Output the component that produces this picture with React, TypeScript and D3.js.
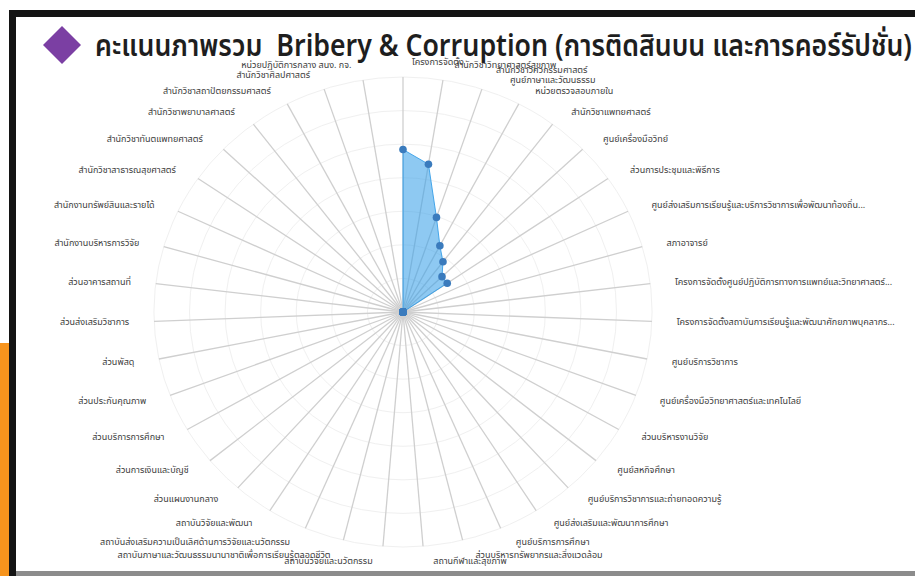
import React from "react";
import * as d3 from "d3";

// axis labels, clockwise from the top
const units: string[] = [
  "โครงการจัดตั้ง",
  "สำนักวิชาวิทยาศาสตร์สุขภาพ",
  "สำนักวิชาวิศวกรรมศาสตร์\n      ศูนย์ภาษาและวัฒนธรรม",
  "หน่วยตรวจสอบภายใน",
  "สำนักวิชาแพทยศาสตร์",
  "ศูนย์เครื่องมือวิทย์",
  "ส่วนการประชุมและพิธีการ",
  "ศูนย์ส่งเสริมการเรียนรู้และบริการวิชาการเพื่อพัฒนาท้องถิ่น...",
  "สภาอาจารย์",
  "โครงการจัดตั้งศูนย์ปฏิบัติการทางการแพทย์และวิทยาศาสตร์...",
  "โครงการจัดตั้งสถาบันการเรียนรู้และพัฒนาศักยภาพบุคลากร...",
  "ศูนย์บริการวิชาการ",
  "ศูนย์เครื่องมือวิทยาศาสตร์และเทคโนโลยี",
  "ส่วนบริหารงานวิจัย",
  "ศูนย์สหกิจศึกษา",
  "ศูนย์บริการวิชาการและถ่ายทอดความรู้",
  "ศูนย์ส่งเสริมและพัฒนาการศึกษา",
  "ศูนย์บริการการศึกษา",
  "ส่วนบริหารทรัพยากรและสิ่งแวดล้อม",
  "สถานกีฬาและสุขภาพ",
  "สถาบันวิจัยและนวัตกรรม",
  "สถาบันภาษาและวัฒนธรรมนานาชาติเพื่อการเรียนรู้ตลอดชีวิต",
  "สถาบันส่งเสริมความเป็นเลิศด้านการวิจัยและนวัตกรรม",
  "สถาบันวิจัยและพัฒนา",
  "ส่วนแผนงานกลาง",
  "ส่วนการเงินและบัญชี",
  "ส่วนบริการการศึกษา",
  "ส่วนประกันคุณภาพ",
  "ส่วนพัสดุ",
  "ส่วนส่งเสริมวิชาการ",
  "ส่วนอาคารสถานที่",
  "สำนักงานบริหารการวิจัย",
  "สำนักงานทรัพย์สินและรายได้",
  "สำนักวิชาสาธารณสุขศาสตร์",
  "สำนักวิชาทันตแพทยศาสตร์",
  "สำนักวิชาพยาบาลศาสตร์",
  "สำนักวิชาสถาปัตยกรรมศาสตร์",
  "สำนักวิชาศิลปศาสตร์",
  "หน่วยปฏิบัติการกลาง สนง. กจ.",
];

// scores, same order as units
const scores: number[] = [
  4.84, 4.46, 2.97, 2.23, 1.87, 1.52, 1.51,
  0, 0, 0, 0, 0, 0, 0, 0, 0, 0, 0, 0, 0,
  0, 0, 0, 0, 0, 0, 0, 0, 0, 0, 0, 0, 0,
  0, 0, 0, 0, 0, 0,
];

const ringTicks: number[] = [1, 2, 3, 4, 5, 6, 7];

const titleText = "คะแนนภาพรวม  Bribery & Corruption (การติดสินบน และการคอร์รัปชั่น)";

const W = 915;
const H = 576;
const cx = 403;
const cy = 312;
const R = 235;
const labelR = 250;
const kx = 1.06;
const thai = "'Noto Sans Thai', 'Noto Sans', Tahoma, sans-serif";

export default function App() {
  const n = units.length;
  const angle = d3.scaleLinear().domain([0, n]).range([0, 2 * Math.PI]);
  const r = d3.scaleLinear().domain([0, 7]).range([0, R]);

  const area = d3
    .lineRadial<number>()
    .angle((_, i) => angle(i))
    .radius((d) => r(d))
    .curve(d3.curveLinearClosed);

  return (
    <svg
      width={W}
      height={H}
      style={{ position: "absolute", left: 0, top: 0, background: "#fff" }}
    >
      {/* frame */}
      <rect x={0} y={343} width={9} height={H - 343} fill="#f7941d" />
      <rect x={9} y={10} width={W - 9} height={7} fill="#141414" />
      <rect x={9} y={10} width={7} height={H - 10} fill="#141414" />
      <rect x={16} y={571} width={W - 16} height={5} fill="#8c8c8c" />

      {/* title */}
      <path d="M62,26 L81,45 L62,64 L43,45 Z" fill="#7b3fa3" />
      <text
        x={95}
        y={56}
        fontFamily={thai}
        fontSize={30}
        fontWeight={600}
        fill="#1e1e1e"
        textLength={817}
        lengthAdjust="spacingAndGlyphs"
        style={{ whiteSpace: "pre" }}
      >
        {titleText}
      </text>

      <g transform={`translate(${cx},${cy}) scale(${kx},1)`}>
        {ringTicks.map((t) => (
          <circle
            key={t}
            r={r(t)}
            fill="none"
            stroke="#f0f0f0"
            strokeWidth={1}
            vectorEffect="non-scaling-stroke"
          />
        ))}
        {units.map((_, i) => {
          const a = angle(i);
          return (
            <line
              key={i}
              x1={0}
              y1={0}
              x2={R * Math.sin(a)}
              y2={-R * Math.cos(a)}
              stroke="#cfcfcf"
              strokeWidth={1.3}
              vectorEffect="non-scaling-stroke"
            />
          );
        })}
        <path
          d={area(scores) || ""}
          fill="rgba(54,158,232,0.56)"
          stroke="rgba(54,158,232,0.9)"
          strokeWidth={1}
          vectorEffect="non-scaling-stroke"
        />
        {scores.map((v, i) => {
          const a = angle(i);
          return (
            <ellipse
              key={i}
              cx={r(v) * Math.sin(a)}
              cy={-r(v) * Math.cos(a)}
              rx={3.8 / kx}
              ry={3.8}
              fill="#3a7bbd"
            />
          );
        })}
      </g>

      {/* axis labels */}
      {units.map((u, i) => {
        const a = angle(i);
        const s = Math.sin(a);
        const right = s >= -1e-9;
        const x = cx + kx * labelR * s + (right ? 9 : -9);
        const y = cy - labelR * Math.cos(a);
        const lines = u.split("\n");
        return (
          <text
            key={i}
            x={x}
            y={y - ((lines.length - 1) * 10) / 2}
            textAnchor={right ? "start" : "end"}
            fontFamily={thai}
            fontSize={9}
            fill="#3c3c3c"
            style={{ whiteSpace: "pre" }}
          >
            {lines.map((l, j) => (
              <tspan key={j} x={x} dy={j === 0 ? "0.35em" : 10}>
                {l}
              </tspan>
            ))}
          </text>
        );
      })}
    </svg>
  );
}
